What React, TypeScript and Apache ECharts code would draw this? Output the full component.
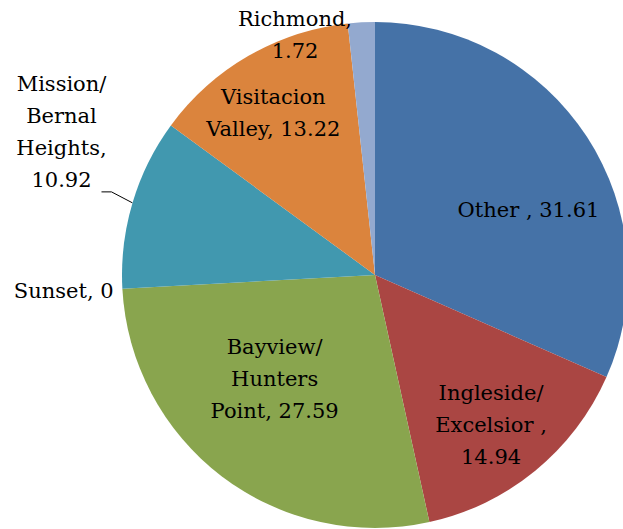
import React, { useEffect, useRef } from "react";
import * as echarts from "echarts";

// Data
const categories = [
  "Other ",
  "Ingleside/\nExcelsior ",
  "Bayview/\nHunters\nPoint",
  "Sunset",
  "Mission/\nBernal\nHeights",
  "Visitacion\nValley",
  "Richmond",
];
const values = [31.61, 14.94, 27.59, 0, 10.92, 13.22, 1.72];
// whether the value goes on its own line after the comma
const valueOnNewLine = [false, true, false, false, true, false, true];
const colors = ["#4572A7", "#AA4643", "#89A54E", "#71588F", "#4198AF", "#DB843D", "#93A9CF"];

// Label layout (offsets from the library's default label anchor)
const labelOffsets: [number, number][] = [
  [45, 6],
  [34, 50],
  [-22, 1],
  [-182, 9],
  [0, 0],
  [-37, -50],
  [-73, -111],
];
const outsideIndex = 4;

export default function App() {
  const ref = useRef<HTMLDivElement>(null);
  useEffect(() => {
    if (!ref.current) return;
    const chart = echarts.init(ref.current, undefined, { renderer: "svg" });
    const data = categories.map((name, i) => {
      const item: any = { name, value: values[i], itemStyle: { color: colors[i] } };
      if (i === outsideIndex) {
        item.label = { position: "outside" };
        item.labelLine = {
          show: true,
          length: 22,
          length2: 10,
          smooth: false,
          lineStyle: { color: "#000", width: 1 },
        };
      }
      return item;
    });
    chart.setOption({
      animation: false,
      backgroundColor: "#fff",
      series: [
        {
          type: "pie",
          center: [375, 275],
          radius: 253,
          startAngle: 90,
          clockwise: true,
          avoidLabelOverlap: false,
          minShowLabelAngle: 0,
          data,
          itemStyle: { borderWidth: 0 },
          emphasis: { disabled: true },
          label: {
            show: true,
            position: "inside",
            color: "#000",
            fontFamily: "DejaVu Serif",
            fontSize: 21,
            lineHeight: 32,
            align: "center",
            formatter: (p: any) =>
              p.name + "," + (valueOnNewLine[p.dataIndex] ? "\n" : " ") + String(p.value),
          },
          labelLine: { show: false },
          labelLayout: (params: any) => {
            const i = params.dataIndex;
            const r = params.labelRect;
            if (i === outsideIndex && params.labelLinePoints) {
              const p0 = params.labelLinePoints[0];
              const p1 = [p0[0] - 21, p0[1] - 11];
              const p2 = [p1[0] - 10, p1[1]];
              return {
                x: p2[0] - 40,
                y: p2[1] + 4,
                align: "center",
                verticalAlign: "bottom",
                labelLinePoints: [p0, p1, p2],
              };
            }
            const [dx, dy] = labelOffsets[i];
            return {
              x: r.x + r.width / 2 + dx,
              y: r.y + r.height / 2 + dy,
              align: "center",
              verticalAlign: "middle",
            };
          },
        },
      ],
    });
    return () => chart.dispose();
  }, []);
  return (
    <div
      ref={ref}
      style={{ position: "absolute", left: 0, top: 0, width: 623, height: 529 }}
    />
  );
}
